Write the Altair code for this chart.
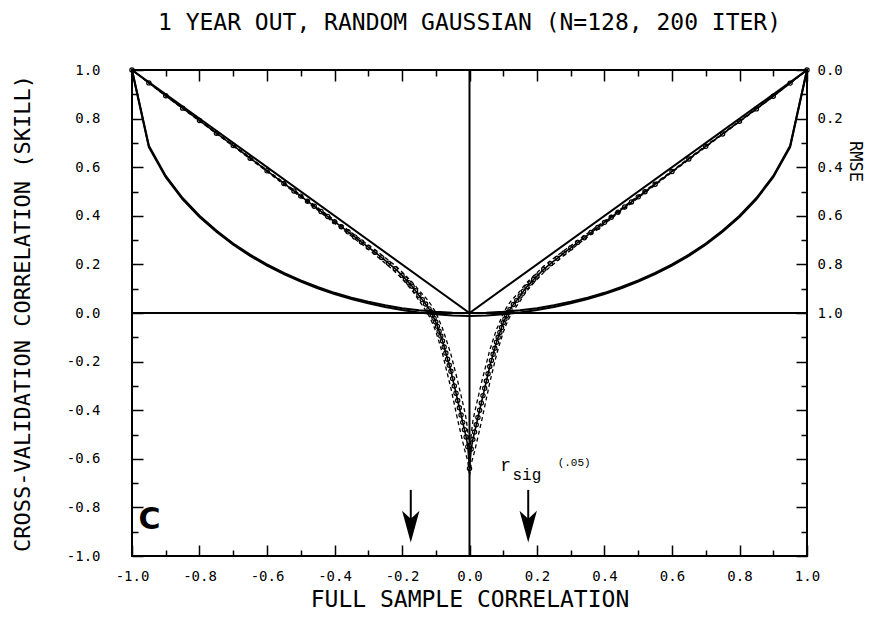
import altair as alt
import pandas as pd

TITLE = "1 YEAR OUT, RANDOM GAUSSIAN (N=128, 200 ITER)"
X_TITLE = "FULL SAMPLE CORRELATION"
Y_TITLE = "CROSS-VALIDATION CORRELATION (SKILL)"
Y2_TITLE = "RMSE"

x_ticks = [-1.0, -0.9, -0.8, -0.7, -0.6, -0.5, -0.4, -0.3, -0.2, -0.1, 0.0,
           0.1, 0.2, 0.3, 0.4, 0.5, 0.6, 0.7, 0.8, 0.9, 1.0]
y_ticks = [-1.0, -0.9, -0.8, -0.7, -0.6, -0.5, -0.4, -0.3, -0.2, -0.1, 0.0,
           0.1, 0.2, 0.3, 0.4, 0.5, 0.6, 0.7, 0.8, 0.9, 1.0]
rmse_ticks = [0.0, 0.1, 0.2, 0.3, 0.4, 0.5, 0.6, 0.7, 0.8, 0.9, 1.0,
              1.1, 1.2, 1.3, 1.4, 1.5, 1.6, 1.7, 1.8, 1.9, 2.0]

# |r| reference line
abs_r = [-1.0, 0.0, 1.0]
abs_y = [1.0, 0.0, 1.0]

# cross-validation skill (mean of iterations), by |r|
r_grid = [0.0, 0.005, 0.01, 0.015, 0.02, 0.025, 0.03, 0.035, 0.04, 0.045, 0.05,
          0.055, 0.06, 0.065, 0.07, 0.075, 0.08, 0.085, 0.09, 0.095, 0.1, 0.105,
          0.11, 0.115, 0.12, 0.13, 0.14, 0.15, 0.16, 0.17, 0.18, 0.19, 0.2, 0.22,
          0.24, 0.26, 0.28, 0.3, 0.32, 0.34, 0.36, 0.38, 0.4, 0.42, 0.44, 0.46,
          0.48, 0.5, 0.52, 0.55, 0.6, 0.65, 0.7, 0.75, 0.8, 0.85, 0.9, 0.95, 1.0]
cv_right = [-0.64, -0.56, -0.52, -0.49, -0.46, -0.43, -0.40, -0.37, -0.34, -0.31,
            -0.28, -0.25, -0.22, -0.195, -0.17, -0.145, -0.12, -0.10, -0.08, -0.06,
            -0.04, -0.025, -0.01, 0.003, 0.015, 0.035, 0.052, 0.07, 0.09, 0.108,
            0.123, 0.138, 0.152, 0.18, 0.203, 0.225, 0.247, 0.268, 0.29, 0.31,
            0.331, 0.352, 0.373, 0.394, 0.415, 0.436, 0.457, 0.478, 0.499, 0.53,
            0.582, 0.634, 0.686, 0.737, 0.789, 0.84, 0.892, 0.946, 1.0]
cv_left = [-0.64, -0.55, -0.51, -0.48, -0.45, -0.42, -0.39, -0.36, -0.33, -0.30,
           -0.27, -0.24, -0.215, -0.19, -0.165, -0.14, -0.115, -0.095, -0.075, -0.055,
           -0.037, -0.022, -0.008, 0.005, 0.017, 0.037, 0.055, 0.073, 0.092, 0.11,
           0.125, 0.14, 0.155, 0.182, 0.205, 0.228, 0.25, 0.271, 0.292, 0.313,
           0.334, 0.355, 0.376, 0.397, 0.418, 0.439, 0.46, 0.481, 0.502, 0.533,
           0.585, 0.637, 0.689, 0.74, 0.792, 0.843, 0.894, 0.947, 1.0]
cv_spread = [0.03, 0.06, 0.075, 0.08, 0.08, 0.08, 0.08, 0.08, 0.078, 0.075, 0.072,
             0.07, 0.067, 0.063, 0.06, 0.056, 0.052, 0.048, 0.045, 0.042, 0.039, 0.036,
             0.033, 0.031, 0.029, 0.026, 0.023, 0.021, 0.019, 0.017, 0.016, 0.015,
             0.014, 0.013, 0.012, 0.011, 0.01, 0.009, 0.008, 0.008, 0.007, 0.007,
             0.006, 0.006, 0.005, 0.005, 0.005, 0.004, 0.004, 0.004, 0.003, 0.003,
             0.003, 0.002, 0.002, 0.002, 0.001, 0.001, 0.0]

# RMSE curves (right axis)
rmse_r = [-1.0, -0.95, -0.9, -0.85, -0.8, -0.75, -0.7, -0.65, -0.6, -0.55, -0.5,
          -0.45, -0.4, -0.35, -0.3, -0.25, -0.2, -0.15, -0.1, -0.05, 0.0,
          0.05, 0.1, 0.15, 0.2, 0.25, 0.3, 0.35, 0.4, 0.45, 0.5,
          0.55, 0.6, 0.65, 0.7, 0.75, 0.8, 0.85, 0.9, 0.95, 1.0]
rmse_full = [0.0, 0.312, 0.436, 0.527, 0.6, 0.661, 0.714, 0.76, 0.8, 0.835, 0.866,
             0.893, 0.917, 0.937, 0.954, 0.968, 0.98, 0.989, 0.995, 0.999, 1.0,
             0.999, 0.995, 0.989, 0.98, 0.968, 0.954, 0.937, 0.917, 0.893, 0.866,
             0.835, 0.8, 0.76, 0.714, 0.661, 0.6, 0.527, 0.436, 0.312, 0.0]
rmse_cv = [0.0, 0.317, 0.441, 0.532, 0.605, 0.666, 0.719, 0.765, 0.805, 0.84, 0.871,
           0.898, 0.922, 0.943, 0.96, 0.975, 0.988, 0.998, 1.005, 1.01, 1.012,
           1.01, 1.005, 0.998, 0.988, 0.975, 0.96, 0.943, 0.922, 0.898, 0.871,
           0.84, 0.805, 0.765, 0.719, 0.666, 0.605, 0.532, 0.441, 0.317, 0.0]

# significance arrows and annotations
arrow_r = [-0.174, 0.174]
arrow_top = [-0.728, -0.728]
arrow_tip = [-0.90, -0.90]
arrow_head_y = [-0.879, -0.879]

note_text = ["r", "sig", "(.05)"]
note_x = [0.107, 0.170, 0.310]
note_y = [-0.628, -0.668, -0.617]
note_size = [18, 16, 11]

panel_text = ["C"]
panel_x = [-0.948]
panel_y = [-0.852]

# ---------------------------------------------------------------- data frames
n = len(r_grid)
cv_rows = []
for i in range(n - 1, 0, -1):
    cv_rows.append({"x": -r_grid[i], "y": cv_left[i], "s": cv_spread[i]})
for i in range(n):
    cv_rows.append({"x": r_grid[i], "y": cv_right[i], "s": cv_spread[i]})
cv_df = pd.DataFrame(cv_rows)
cv_df["order"] = range(len(cv_df))
env_df = pd.concat([
    pd.DataFrame({"x": cv_df["x"], "y": cv_df["y"] + cv_df["s"], "band": "upper", "order": cv_df["order"]}),
    pd.DataFrame({"x": cv_df["x"], "y": cv_df["y"] - cv_df["s"], "band": "lower", "order": cv_df["order"]}),
])

abs_df = pd.DataFrame({"x": abs_r, "y": abs_y})
rmse_df = pd.concat([
    pd.DataFrame({"x": rmse_r, "rmse": rmse_full, "curve": "full"}),
    pd.DataFrame({"x": rmse_r, "rmse": rmse_cv, "curve": "cv"}),
])
arrow_df = pd.DataFrame({"x": arrow_r, "y": arrow_top, "y2": arrow_tip, "yh": arrow_head_y})
note_df = pd.DataFrame({"x": note_x, "y": note_y, "t": note_text, "fs": note_size})
panel_df = pd.DataFrame({"x": panel_x, "y": panel_y, "t": panel_text})
hzero_df = pd.DataFrame({"y": [0.0]})
vzero_df = pd.DataFrame({"x": [0.0]})

# ---------------------------------------------------------------- axes/scales
MAJOR = "abs(round(datum.value * 10)) % 2 == 0"
tick_size = {"condition": {"test": MAJOR, "value": -11}, "value": -6}
signed_label = (MAJOR + " ? ((datum.value < -0.001 ? '-' : '') + "
                "format(abs(datum.value), '.1f')) : ''")
rmse_label = ("datum.value <= 1.001 && " + MAJOR +
              " ? format(datum.value, '.1f') : ''")

xscale = alt.Scale(domain=[-1, 1], nice=False, zero=False)
yscale = alt.Scale(domain=[-1, 1], nice=False, zero=False)
rscale = alt.Scale(domain=[0, 2], nice=False, zero=False, reverse=True)

FONT = "DejaVu Sans Mono"
common = dict(tickColor="black", tickWidth=1.5, labelColor="black", labelFont=FONT,
              labelFontSize=14, titleFont=FONT,
              titleFontWeight="normal", titleColor="black", grid=False, domain=False,
              labelFlush=False, labelOverlap=False, labelBound=False, tickSize=tick_size)

x_axis = alt.Axis(values=x_ticks, orient="bottom", title=X_TITLE,
                  labelExpr=signed_label, labelPadding=31, labelBaseline="middle",
                  titleX=337.5, titleY=50, titleAlign="center", titleBaseline="alphabetic",
                  titleFontSize=23, **common)
x_top = alt.Axis(values=x_ticks, orient="top", title=None, labels=False, **common)
y_axis = alt.Axis(values=y_ticks, orient="left", title=Y_TITLE,
                  labelExpr=signed_label, labelPadding=43, labelBaseline="middle",
                  titleAngle=270, titleX=-110, titleY=243, titleAlign="center",
                  titleBaseline="middle", titleFontSize=22, **common)
y2_axis = alt.Axis(values=rmse_ticks, orient="right", title=Y2_TITLE,
                   labelExpr=rmse_label, labelPadding=21, labelBaseline="middle",
                   titleAngle=90, titleX=47, titleY=91, titleAlign="center",
                   titleBaseline="middle", titleFontSize=17, **common)

X = lambda f="x": alt.X(f"{f}:Q", scale=xscale, axis=x_axis)
Y = lambda f="y": alt.Y(f"{f}:Q", scale=yscale, axis=y_axis)

hzero = alt.Chart(hzero_df).mark_rule(color="black", strokeWidth=2).encode(y=Y())
vzero = alt.Chart(vzero_df).mark_rule(color="black", strokeWidth=2).encode(x=X())
absline = alt.Chart(abs_df).mark_line(color="black", strokeWidth=2).encode(x=X(), y=Y())
env = alt.Chart(env_df).mark_line(color="black", strokeWidth=1.3, strokeDash=[4, 3]).encode(
    x=X(), y=Y(), detail="band:N", order="order:Q")
cvline = alt.Chart(cv_df).mark_line(color="black", strokeWidth=1.6).encode(
    x=X(), y=Y(), order="order:Q")
cvpts = alt.Chart(cv_df).mark_point(shape="circle", filled=False, size=18, color="black",
                                    strokeWidth=1.2, opacity=1).encode(x=X(), y=Y())
shaft = alt.Chart(arrow_df).mark_rule(color="black", strokeWidth=2).encode(
    x=X(), y=Y(), y2="y2:Q")
head = alt.Chart(arrow_df).mark_point(
    shape="M0,1 L-0.55,-1 L0,-0.5 L0.55,-1 Z", filled=True, size=1000,
    color="black", opacity=1, strokeWidth=0).encode(x=X(), y=Y("yh"))
notes = alt.Chart(note_df).mark_text(font="Liberation Mono", color="black",
                                     baseline="middle", align="center").encode(
    x=X(), y=Y(), text="t:N", size=alt.Size("fs:Q", scale=None, legend=None))
panel = alt.Chart(panel_df).mark_text(font="DejaVu Sans", fontWeight="bold", fontSize=30,
                                      color="black", baseline="middle", align="center").encode(
    x=X(), y=Y(), text="t:N")

left_layer = alt.layer(hzero, vzero, absline, env, cvline, cvpts, shaft, head, notes, panel)

right_layer = alt.Chart(rmse_df).mark_line(color="black", strokeWidth=2).encode(
    x=alt.X("x:Q", scale=xscale, axis=x_top),
    y=alt.Y("rmse:Q", scale=rscale, axis=y2_axis),
    detail="curve:N",
)

chart = (
    alt.layer(left_layer, right_layer)
    .resolve_scale(y="independent")
    .resolve_axis(x="independent", y="independent")
    .properties(
        width=675, height=486, autosize="none",
        padding={"left": 124, "top": 62, "right": 62, "bottom": 55},
        title=alt.TitleParams(TITLE, font=FONT, fontSize=23, frame="group",
                              fontWeight="normal", color="black", anchor="middle",
                              offset=17, baseline="middle"),
        background="white",
    )
    .configure_view(stroke="black", strokeWidth=2)
)

chart.save("out.html", embed_options={"renderer": "svg", "actions": False})
